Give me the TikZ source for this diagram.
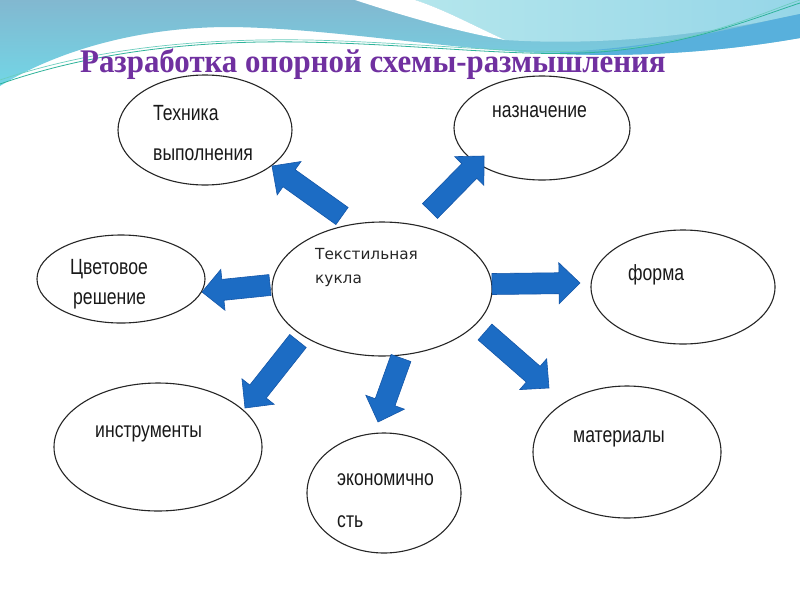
\documentclass[tikz,border=0pt]{standalone}
\usepackage{fontspec}
\setmainfont{Liberation Serif}
\newfontfamily\titlefont[FakeStretch=0.935]{Liberation Serif}
\newfontfamily\lblfont[FakeStretch=0.8]{Liberation Sans}
\newfontfamily\ctrfont{DejaVu Sans}
\usetikzlibrary{calc,shapes.geometric}
\definecolor{titlepurple}{HTML}{7030A0}
\definecolor{wavetop}{HTML}{82B8D0}
\definecolor{wavebot}{HTML}{72D6E6}
\definecolor{lightL}{HTML}{B4E6EC}
\definecolor{lightR}{HTML}{96D6E8}
\definecolor{darkband}{HTML}{58B0DC}
\definecolor{tealline}{HTML}{2FB39A}
\definecolor{tealline2}{HTML}{6CCDBE}
\definecolor{arrfill}{HTML}{1C6CC4}
\definecolor{arrline}{HTML}{1456A8}
\tikzset{
  bubble/.style={ellipse, draw=black!85, line width=1.1pt, fill=white, inner sep=0pt},
  outlbl/.style={anchor=base west, inner sep=0pt, font=\lblfont\fontsize{22}{24}\selectfont, text=black!90},
  ctrlbl/.style={anchor=base west, inner sep=0pt, font=\ctrfont\fontsize{15.3}{17}\selectfont, text=black!85},
  arrowstyle/.style={fill=arrfill, draw=arrline, line width=0.6pt, line join=miter},
}
\newcommand\blockarr[3]{%
  \coordinate (#3h) at ($(#2)!21pt!(#1)$);
  \filldraw[arrowstyle]
    ($(#1)!10.5pt!90:(#2)$) -- ($(#3h)!10.5pt!90:(#2)$) -- ($(#3h)!20.5pt!90:(#2)$)
    -- (#2) -- ($(#3h)!20.5pt!-90:(#2)$) -- ($(#3h)!10.5pt!-90:(#2)$)
    -- ($(#1)!10.5pt!-90:(#2)$) -- cycle;
}
\begin{document}
\begin{tikzpicture}[x=1pt,y=-1pt]
\useasboundingbox (0,0) rectangle (800,600);
\fill[white] (0,0) rectangle (800,600);
% top wave
\shade[top color=wavetop, bottom color=wavebot]
  (0,0) -- (800,0) -- (800,38) .. controls (720,52) and (640,57) .. (560,54)
  .. controls (450,50) and (330,28) .. (230,27) .. controls (130,27) and (50,55) .. (0,86) -- cycle;
\shade[left color=lightL, right color=lightR]
  (415,0) -- (800,0) -- (800,14) .. controls (700,36) and (600,46) .. (505,40)
  .. controls (470,24) and (445,10) .. (415,0) -- cycle;
\fill[darkband]
  (560,52) .. controls (660,48) and (740,26) .. (800,14) -- (800,38)
  .. controls (720,52) and (640,57) .. (560,54) -- cycle;
\fill[white]
  (355,0) -- (415,0) .. controls (445,10) and (470,24) .. (505,40)
  .. controls (460,32) and (410,18) .. (355,0) -- cycle;
\draw[tealline, line width=0.8pt]
  (0,84) .. controls (80,56) and (180,40) .. (300,42) .. controls (420,44) and (520,58) .. (600,52)
  .. controls (690,45) and (760,16) .. (800,3);
\draw[tealline2, line width=0.7pt]
  (0,80) .. controls (90,50) and (190,38) .. (310,40) .. controls (430,43) and (530,56) .. (610,50)
  .. controls (700,42) and (765,12) .. (800,0);
% title
\node[anchor=base west, inner sep=0pt, text=titlepurple,
      font=\titlefont\bfseries\fontsize{33}{35}\selectfont] (title) at (80,72)
  {Разработка опорной схемы-размышления};
% ellipses
\node[bubble, minimum width=174pt, minimum height=110pt] (tech) at (205,130) {};
\node[bubble, minimum width=176pt, minimum height=104pt] (naz)  at (542,128) {};
\node[bubble, minimum width=168pt, minimum height=88pt]  (cvet) at (121,279) {};
\node[bubble, minimum width=220pt, minimum height=134pt] (kukla) at (382,289) {};
\node[bubble, minimum width=184pt, minimum height=114pt] (forma) at (683,287) {};
\node[bubble, minimum width=208pt, minimum height=128pt] (instr) at (158,447) {};
\node[bubble, minimum width=154pt, minimum height=120pt] (ekon) at (384,493) {};
\node[bubble, minimum width=188pt, minimum height=132pt] (mat) at (627,452) {};
% labels
\node[outlbl] (techA) at (153,120) {Техника};
\node[outlbl] (techB) at (153,160) {выполнения};
\node[outlbl] (nazA) at (492,117) {назначение};
\node[outlbl] (cvetA) at (70,274) {Цветовое};
\node[outlbl] (cvetB) at (73,304) {решение};
\node[ctrlbl] (kuklaA) at (315,259) {Текстильная};
\node[ctrlbl] (kuklaB) at (315,283) {кукла};
\node[outlbl] (formaA) at (628,280) {форма};
\node[outlbl] (instrA) at (95,437) {инструменты};
\node[outlbl] (ekonA) at (337,485) {экономично};
\node[outlbl] (ekonB) at (337,527) {сть};
\node[outlbl] (matA) at (573,442) {материалы};
% arrow end points
\coordinate (ta) at (342,216); \coordinate (pa) at (272,166);
\coordinate (tb) at (430,211); \coordinate (pb) at (484,156);
\coordinate (tc) at (270,285); \coordinate (pc) at (202,292);
\coordinate (td) at (492,284); \coordinate (pd) at (580,283);
\coordinate (te) at (485,332); \coordinate (pe) at (549,388);
\coordinate (tf) at (298,341); \coordinate (pf) at (245,408);
\coordinate (tg) at (401,358); \coordinate (pg) at (378,422);
\blockarr{ta}{pa}{ha}
\blockarr{tb}{pb}{hb}
\blockarr{tc}{pc}{hc}
\blockarr{td}{pd}{hd}
\blockarr{te}{pe}{he}
\blockarr{tf}{pf}{hf}
\blockarr{tg}{pg}{hg}
\end{tikzpicture}
\end{document}
